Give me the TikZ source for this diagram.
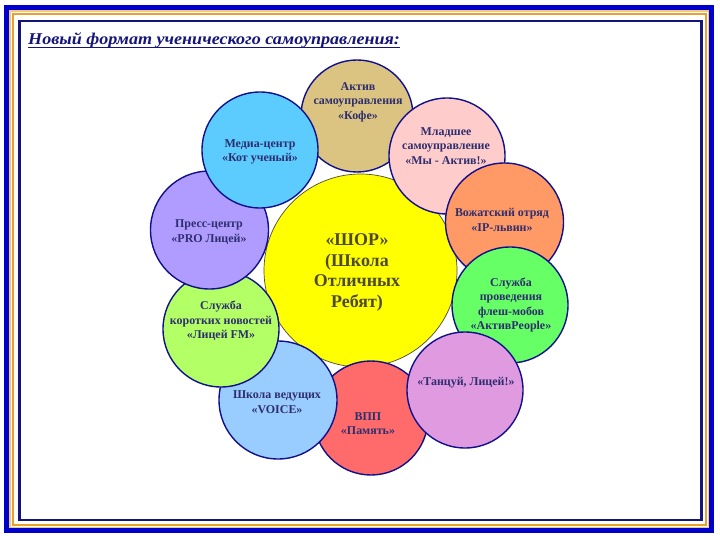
\documentclass[tikz,border=0pt]{standalone}
\usepackage{fontspec}
\setmainfont{Liberation Serif}
\newfontfamily\headfont[FakeStretch=1.1]{Liberation Serif}
\definecolor{frameblue}{HTML}{0000CC}
\definecolor{framegold}{HTML}{E8A02E}
\definecolor{framegoldlight}{HTML}{F2C87A}
\definecolor{framenavy}{HTML}{14147A}
\definecolor{ringnavy}{HTML}{10108C}
\definecolor{textnavy}{HTML}{2E2E6E}
\definecolor{textolive}{HTML}{4D4A33}
\definecolor{shoryellow}{HTML}{FFFF00}
\definecolor{kofetan}{HTML}{DBC481}
\definecolor{mladpink}{HTML}{FFCCCC}
\definecolor{vozhatorange}{HTML}{FF9966}
\definecolor{fleshgreen}{HTML}{66FF66}
\definecolor{tancviolet}{HTML}{E09AE0}
\definecolor{pamyatred}{HTML}{FF6B6B}
\definecolor{voiceblue}{HTML}{99CCFF}
\definecolor{fmlime}{HTML}{B3FF66}
\definecolor{presspurple}{HTML}{B09CFF}
\definecolor{mediacyan}{HTML}{5CCCFF}

\begin{document}
\begin{tikzpicture}[
  x=1bp, y=-1bp,
  bubble/.style={circle, draw=ringnavy, line width=1.4bp, inner sep=0pt, minimum size=116bp},
  bubbletext/.style={align=center, text=textnavy, font=\bfseries\fontsize{12}{14.5}\selectfont},
  title/.style={anchor=base west, inner sep=0pt, text=framenavy, font=\headfont\bfseries\itshape\fontsize{16.5}{18}\selectfont}
]
  \useasboundingbox (0,0) rectangle (720,540);

  % frame
  \draw[frameblue, line width=5bp] (6.5,7.5) rectangle (711.5,530.5);
  \draw[framegoldlight, line width=1.5bp] (10.2,11.2) rectangle (708.5,527.5);
  \draw[framegold, line width=2bp] (13,14) rectangle (705.5,524.5);
  \draw[framenavy, line width=2.5bp] (19.5,21) rectangle (701.5,520);

  \node[title] (head) at (28,45) {Новый формат ученического самоуправления:};
  \draw[framenavy, line width=1.4bp] ([yshift=-2.5bp]head.base west) -- ([yshift=-2.5bp]head.base east);

  % circles
  \node[bubble, fill=shoryellow, draw=textolive, line width=0.7bp, minimum size=193bp] (shor) at (360.5,270.5) {};
  \node[bubble, fill=kofetan, minimum size=112bp] (kofe) at (357,116) {};
  \node[bubble, fill=pamyatred, minimum size=114bp] (pamyat) at (371,418) {};
  \node[bubble, fill=mladpink] (mlad) at (447,156) {};
  \node[bubble, fill=vozhatorange, minimum size=118bp] (vozhat) at (504.5,222) {};
  \node[bubble, fill=fleshgreen] (flesh) at (510,305) {};
  \node[bubble, fill=tancviolet] (tanc) at (465,390) {};
  \node[bubble, fill=voiceblue, minimum size=118bp] (voice) at (278,400) {};
  \node[bubble, fill=fmlime] (fm) at (221,329) {};
  \node[bubble, fill=presspurple, minimum size=118bp] (press) at (209.5,230) {};
  \node[bubble, fill=mediacyan] (media) at (260,150) {};

  % labels
  \node[bubbletext, text=textolive, font=\bfseries\fontsize{18}{21}\selectfont] (shor-t) at (357,272.5) {«ШОР»\\(Школа\\Отличных\\Ребят)};
  \node[bubbletext] (kofe-t) at (358,102) {Актив\\самоуправления\\«Кофе»};
  \node[bubbletext] (mlad-t) at (446,146) {Младшее\\самоуправление\\«Мы - Актив!»};
  \node[bubbletext] (vozhat-t) at (502,220) {Вожатский отряд\\«IP-львин»};
  \node[bubbletext] (flesh-t) at (511,305) {Служба\\проведения\\флеш-мобов\\«АктивPeople»};
  \node[bubbletext] (tanc-t) at (466,383) {«Танцуй, Лицей!»};
  \node[bubbletext] (pamyat-t) at (368,423.5) {ВПП\\«Память»};
  \node[bubbletext] (voice-t) at (277,402) {Школа ведущих\\«VOICE»};
  \node[bubbletext] (fm-t) at (221,321) {Служба\\коротких новостей\\«Лицей FM»};
  \node[bubbletext] (press-t) at (209,232) {Пресс-центр\\«PRO Лицей»};
  \node[bubbletext] (media-t) at (260,152) {Медиа-центр\\«Кот ученый»};
\end{tikzpicture}
\end{document}
